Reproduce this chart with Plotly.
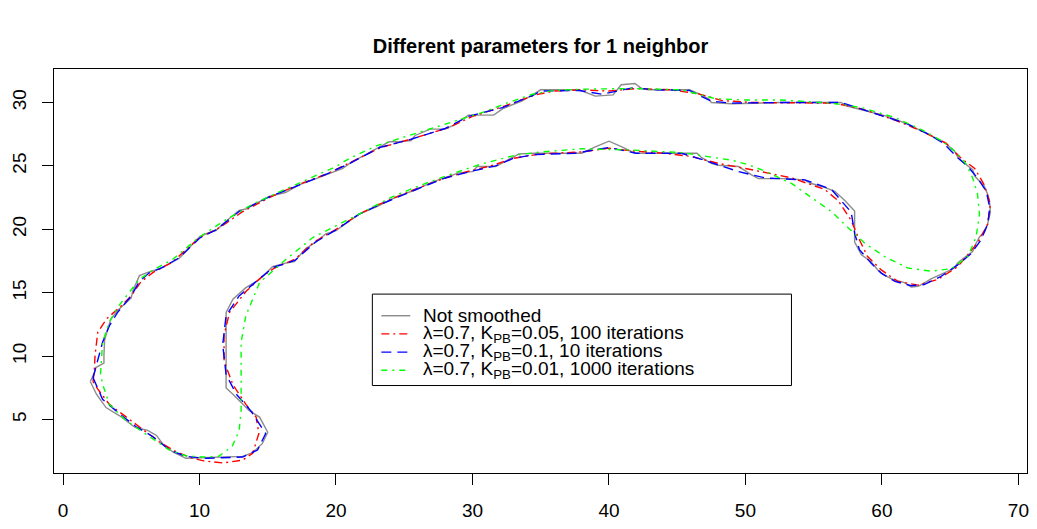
import plotly.graph_objects as go

# ---- data -------------------------------------------------------------
title_text = "Different parameters for 1 neighbor"
x_ticks = [0, 10, 20, 30, 40, 50, 60, 70]
y_ticks = [5, 10, 15, 20, 25, 30]

series_names = [
    "Not smoothed",
    "λ=0.7, K<sub>PB</sub>=0.05, 100 iterations",
    "λ=0.7, K<sub>PB</sub>=0.1, 10 iterations",
    "λ=0.7, K<sub>PB</sub>=0.01, 1000 iterations",
]

# raw outline (closed contour)
raw_pts = [
    (2.0, 8.0), (2.3, 8.7), (2.4, 9.1), (3.0, 9.45), (3.0, 10.1), (3.05, 11.3), (3.5, 12.9),
    (4.0, 13.6), (4.5, 14.1), (5.0, 14.6), (5.1, 15.1), (5.4, 15.8), (5.6, 16.35), (6.2, 16.6),
    (7.1, 16.9), (7.8, 17.3), (8.5, 17.7), (9.3, 18.6), (10.0, 19.4), (10.6, 19.7), (11.2, 19.9),
    (11.9, 20.6), (12.9, 21.5), (13.4, 21.6), (15.1, 22.6), (16.3, 22.9), (17.3, 23.5),
    (18.3, 23.9), (19.3, 24.3), (20.5, 24.8), (21.0, 25.2), (22.3, 26.0), (23.2, 26.5),
    (23.9, 26.9), (24.6, 26.9), (25.5, 27.0), (25.8, 27.4), (26.9, 27.9), (28.0, 27.9),
    (28.6, 28.2), (29.0, 28.5), (29.7, 29.0), (31.55, 29.0), (32.2, 29.5), (33.1, 29.9),
    (33.6, 30.1), (34.4, 30.6), (35.0, 31.0), (37.8, 31.0), (39.0, 30.5), (40.3, 30.6),
    (40.9, 31.4), (41.9, 31.5), (42.4, 31.1), (42.9, 31.0), (45.9, 31.0), (46.55, 30.7),
    (47.3, 30.3), (47.5, 30.0), (49.0, 29.9), (52.6, 30.0), (57.0, 30.0), (57.5, 29.7),
    (59.0, 29.3), (60.4, 28.9), (61.9, 28.3), (63.4, 27.5), (64.5, 26.9), (65.3, 26.2),
    (65.6, 25.6), (66.65, 24.7), (66.8, 24.2), (67.5, 23.4), (67.75, 22.75), (67.9, 22.0),
    (67.95, 21.35), (67.75, 20.45), (67.5, 19.8), (67.15, 19.4), (66.9, 18.9), (66.65, 18.25),
    (66.3, 18.0), (65.95, 17.7), (65.55, 17.35), (65.3, 16.95), (64.85, 16.7), (64.35, 16.45),
    (63.6, 16.1), (63.15, 15.8), (62.65, 15.5), (62.15, 15.45), (61.65, 15.8), (60.7, 16.1),
    (60.1, 16.45), (59.7, 16.8), (59.2, 17.45), (58.5, 18.0), (58.0, 19.0), (58.0, 20.45),
    (58.0, 21.45), (57.3, 22.25), (56.55, 23.0), (55.55, 23.4), (54.7, 23.65), (54.35, 23.9),
    (52.9, 24.0), (50.95, 24.0), (50.45, 24.3), (49.5, 24.95), (48.0, 25.05), (47.5, 25.2),
    (46.8, 25.65), (46.45, 26.0), (41.9, 26.0), (40.95, 26.5), (40.0, 26.95), (39.0, 26.5),
    (38.0, 26.0), (34.6, 26.0), (33.4, 25.95), (32.4, 25.35), (31.7, 24.95), (30.35, 24.95),
    (30.0, 24.55), (29.0, 24.45), (28.0, 24.05), (27.0, 23.7), (25.8, 23.1), (24.5, 22.6),
    (23.0, 21.8), (21.7, 21.2), (20.7, 20.45), (20.0, 19.9), (19.25, 19.65), (18.55, 19.0),
    (17.8, 18.5), (16.95, 17.45), (16.35, 17.35), (15.35, 17.05), (14.4, 16.05), (13.4, 15.4),
    (12.45, 14.5), (11.95, 13.45), (11.95, 12.15), (11.95, 7.5), (12.45, 7.0), (13.05, 6.35),
    (13.65, 5.7), (14.4, 5.2), (15.0, 4.0), (14.6, 3.1), (13.9, 2.4), (13.15, 2.1), (11.0, 2.0),
    (9.0, 1.95), (8.05, 2.45), (7.3, 3.1), (6.85, 3.75), (6.2, 4.15), (5.25, 4.4), (4.15, 5.3),
    (3.15, 5.95), (2.45, 7.0), (2.0, 8.0),
]

# lambda=0.7, K_PB=0.05, 100 iterations
red_pts = [
    (2.2, 8.0), (2.3, 9.0), (2.35, 10.1), (2.55, 11.9), (3.2, 12.95), (4.1, 13.8), (5.0, 14.75),
    (5.7, 15.85), (6.6, 16.6), (8.0, 17.4), (10.0, 19.35), (11.5, 20.15), (13.1, 21.35),
    (15.2, 22.55), (17.3, 23.55), (19.4, 24.4), (21.0, 25.25), (23.3, 26.45), (25.6, 27.15),
    (28.2, 28.0), (30.0, 28.9), (32.3, 29.7), (34.6, 30.6), (36.0, 30.9), (38.0, 31.0),
    (40.0, 30.9), (42.0, 31.1), (44.5, 31.0), (46.5, 30.7), (48.3, 30.15), (50.5, 30.0),
    (53.0, 30.0), (56.5, 29.95), (58.5, 29.5), (61.0, 28.6), (63.0, 27.7), (64.7, 26.8),
    (65.8, 25.6), (66.8, 24.8), (67.5, 23.5), (67.95, 22.0), (67.75, 20.4), (67.1, 19.1),
    (66.75, 18.6), (65.55, 17.05), (64.1, 16.05), (62.65, 15.6), (61.15, 15.9), (59.95, 16.8),
    (58.95, 17.85), (58.25, 19.4), (57.75, 20.7), (56.8, 22.25), (55.8, 23.15), (53.4, 24.05),
    (50.0, 24.8), (48.0, 25.2), (46.0, 25.75), (44.0, 26.0), (41.5, 26.2), (40.0, 26.4),
    (38.0, 26.1), (35.0, 25.95), (33.0, 25.6), (31.5, 25.05), (29.8, 24.6), (28.0, 24.05),
    (26.0, 23.25), (24.5, 22.6), (23.0, 21.9), (21.7, 21.2), (20.0, 20.0), (18.4, 19.0),
    (17.0, 17.65), (15.5, 16.95), (14.6, 16.3), (13.4, 15.1), (12.2, 13.45), (11.8, 11.65),
    (11.8, 9.6), (12.45, 7.75), (13.4, 6.2), (14.15, 5.2), (14.35, 3.9), (13.9, 2.35),
    (13.15, 1.8), (11.7, 1.58), (10.3, 1.75), (9.5, 1.95), (8.3, 2.45), (7.05, 3.25),
    (6.1, 4.0), (4.65, 5.2), (3.4, 6.2), (2.55, 7.4), (2.2, 8.0),
]

# lambda=0.7, K_PB=0.1, 10 iterations
blue_pts = [
    (2.2, 8.3), (2.55, 9.8), (2.9, 11.1), (3.4, 12.4), (4.0, 13.45), (5.0, 14.75), (5.6, 15.9),
    (6.3, 16.55), (7.3, 17.0), (8.5, 17.75), (10.0, 19.3), (11.2, 19.95), (12.9, 21.4),
    (15.1, 22.55), (17.3, 23.5), (19.3, 24.35), (21.0, 25.2), (23.2, 26.45), (25.5, 27.1),
    (28.0, 27.95), (29.7, 28.9), (32.2, 29.6), (34.4, 30.55), (35.0, 30.9), (37.8, 30.95),
    (39.5, 30.65), (41.7, 31.15), (43.5, 31.0), (45.9, 30.95), (47.5, 30.1), (49.0, 29.95),
    (52.6, 30.0), (57.0, 30.0), (59.0, 29.3), (61.9, 28.3), (63.4, 27.5), (64.5, 26.8),
    (65.6, 25.6), (66.3, 24.95), (67.0, 24.05), (67.65, 23.0), (67.9, 21.7), (67.75, 20.4),
    (67.25, 19.15), (66.55, 18.1), (65.55, 17.2), (64.35, 16.3), (63.1, 15.65), (62.15, 15.55),
    (60.95, 15.9), (59.95, 16.55), (59.2, 17.35), (58.35, 18.4), (58.0, 19.7), (57.75, 21.35),
    (56.3, 23.15), (54.35, 23.9), (51.45, 24.05), (49.5, 24.55), (46.55, 25.6), (45.3, 26.0),
    (42.0, 26.0), (40.0, 26.45), (37.5, 26.0), (34.6, 25.9), (33.0, 25.6), (31.7, 25.0),
    (30.0, 24.6), (28.0, 24.05), (26.0, 23.2), (24.5, 22.55), (23.0, 21.85), (21.7, 21.2),
    (20.0, 19.95), (18.5, 19.0), (17.0, 17.55), (15.4, 17.0), (14.4, 16.1), (12.9, 14.75),
    (11.95, 13.2), (11.7, 10.9), (11.95, 8.55), (12.7, 7.0), (13.75, 5.7), (14.85, 3.9),
    (14.25, 2.6), (13.15, 2.05), (10.5, 1.95), (9.0, 2.1), (7.8, 2.6), (6.6, 3.65),
    (5.4, 4.4), (4.15, 5.45), (2.9, 6.6), (2.2, 8.3),
]

# lambda=0.7, K_PB=0.01, 1000 iterations
green_pts = [
    (2.75, 8.6), (2.8, 9.6), (2.9, 11.1), (3.4, 12.7), (4.0, 13.85), (4.75, 14.9), (5.6, 16.05),
    (6.6, 16.8), (8.0, 17.6), (10.0, 19.4), (12.0, 20.8), (14.0, 22.05), (16.0, 23.0),
    (18.0, 24.0), (20.0, 24.95), (21.0, 25.6), (23.0, 26.6), (25.8, 27.55), (28.0, 28.3),
    (30.7, 29.2), (32.5, 29.95), (34.4, 30.65), (36.0, 30.95), (38.0, 31.05), (41.7, 31.1),
    (45.3, 31.0), (47.8, 30.3), (50.0, 30.2), (52.6, 30.2), (55.0, 30.05), (56.3, 29.95),
    (58.5, 29.6), (61.0, 28.8), (63.0, 27.8), (64.5, 26.9), (65.5, 26.0), (66.2, 25.1),
    (66.65, 24.05), (67.0, 22.8), (67.15, 21.2), (66.9, 19.4), (66.3, 17.85), (65.1, 16.9),
    (63.6, 16.7), (61.9, 16.95), (60.2, 17.85), (58.75, 18.9), (57.5, 20.15), (56.3, 21.4),
    (54.85, 22.5), (53.4, 23.6), (51.4, 24.6), (50.2, 25.1), (49.0, 25.45), (47.8, 25.65),
    (45.3, 26.05), (41.7, 26.25), (38.0, 26.35), (35.0, 26.1), (33.15, 25.85), (30.5, 25.1),
    (28.3, 24.3), (26.0, 23.4), (24.0, 22.5), (21.7, 21.2), (20.0, 20.3), (18.3, 19.35),
    (16.3, 17.6), (14.4, 15.8), (13.4, 13.2), (13.05, 11.1), (13.05, 8.3), (13.05, 5.7),
    (12.9, 4.1), (12.4, 2.9), (11.4, 2.1), (10.2, 2.05), (9.0, 2.15), (7.8, 2.6),
    (6.35, 3.65), (4.65, 4.9), (3.4, 6.2), (2.9, 7.8), (2.75, 8.6),
]

# ---- styling ----------------------------------------------------------
W, H = 1037, 529
M_L, M_R, M_T, M_B = 54, 8, 69, 49
FONT = "Liberation Sans, Arial, Helvetica, sans-serif"

styles = [
    dict(color="#8c8c8c", dash="solid"),
    dict(color="#ff0000", dash="8px,4px,2px,4px"),
    dict(color="#0000ff", dash="10px,6px"),
    dict(color="#00ff00", dash="6px,5px,2px,5px"),
]
point_sets = [raw_pts, red_pts, blue_pts, green_pts]

fig = go.Figure()
for name, pts, st in zip(series_names, point_sets, styles):
    xs = [p[0] for p in pts]
    ys = [p[1] for p in pts]
    fig.add_trace(go.Scatter(
        x=xs, y=ys, mode="lines", name=name, showlegend=False,
        line=dict(color=st["color"], width=1.4, dash=st["dash"]),
    ))

# legend: framed box with line keys, placed in pixel terms and mapped to paper coords
plot_w = W - M_L - M_R
plot_h = H - M_T - M_B


def px_x(px):
    return (px - M_L) / plot_w


def px_y(py):
    return (H - M_B - py) / plot_h


shapes = [dict(
    type="rect", xref="paper", yref="paper",
    x0=px_x(373), x1=px_x(793), y0=px_y(391), y1=px_y(298),
    line=dict(color="black", width=1), fillcolor="white", layer="above",
)]
annotations = []
row_y = [320, 338.5, 357, 375.5]
for name, st, ry in zip(series_names, styles, row_y):
    shapes.append(dict(
        type="line", xref="paper", yref="paper",
        x0=px_x(382), x1=px_x(411), y0=px_y(ry), y1=px_y(ry),
        line=dict(color=st["color"], width=1.4, dash=st["dash"]), layer="above",
    ))
    annotations.append(dict(
        text=name, xref="paper", yref="paper", x=px_x(422), y=px_y(ry),
        xanchor="left", yanchor="middle", showarrow=False,
        font=dict(family=FONT, size=19, color="black"),
    ))

axis_common = dict(
    showgrid=False, zeroline=False, showline=True, mirror=True,
    linecolor="black", linewidth=1, ticks="outside", ticklen=11,
    tickwidth=1, tickcolor="black",
    tickfont=dict(family=FONT, size=19, color="black"),
)

fig.update_layout(
    width=W, height=H, autosize=False,
    margin=dict(l=M_L, r=M_R, t=M_T, b=M_B),
    paper_bgcolor="white", plot_bgcolor="white",
    showlegend=False,
    title=dict(
        text="<b>" + title_text + "</b>", x=0.5, xref="paper", xanchor="center",
        y=1 - 46 / H, yref="container", yanchor="middle",
        font=dict(family=FONT, size=20, color="black"),
    ),
    xaxis=dict(range=[-0.66, 70.63], tickvals=x_ticks, ticklabelstandoff=9, **axis_common),
    yaxis=dict(range=[0.79, 32.64], tickvals=y_ticks, tickangle=-90, ticklabelstandoff=8,
               **axis_common),
    shapes=shapes,
    annotations=annotations,
)

fig.write_html("out.html")
